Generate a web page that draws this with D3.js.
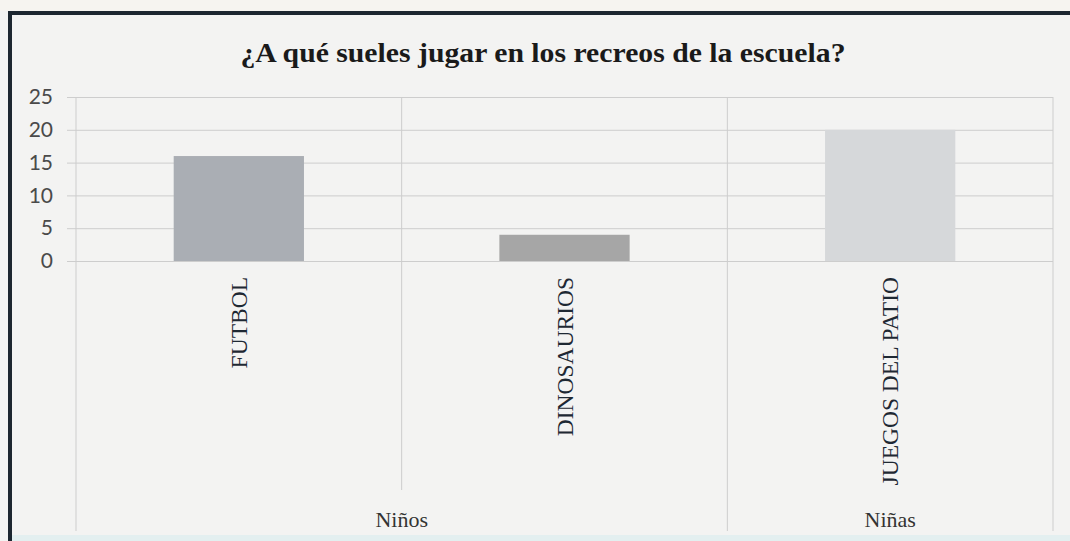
<!DOCTYPE html>
<html>
<head>
<meta charset="utf-8">
<script src="https://cdn.jsdelivr.net/npm/d3@7/dist/d3.min.js"></script>
<style>
  html, body { margin: 0; padding: 0; background: #f3f3f2; }
  svg { display: block; }
</style>
</head>
<body>
<svg id="chart" width="1070" height="541"></svg>
<script>
const title = "¿A qué sueles jugar en los recreos de la escuela?";
const categories = ["FUTBOL", "DINOSAURIOS", "JUEGOS DEL PATIO"];
const values = [16, 4, 20];
const groups = ["Niños", "Niños", "Niñas"];
const groupNames = ["Niños", "Niñas"];
const barColors = ["#aaaeb4", "#a6a6a6", "#d6d8da"];
const yTicks = [0, 5, 10, 15, 20, 25];

const svg = d3.select("#chart");
const W = 1070, H = 541;
const plot = { left: 76, right: 1053, top: 97, bottom: 261 };

// page background
svg.append("rect").attr("x", 0).attr("y", 0).attr("width", W).attr("height", H).attr("fill", "#f3f3f2");
// pale band at bottom
svg.append("rect").attr("x", 12).attr("y", 535).attr("width", W).attr("height", 6).attr("fill", "#e3eff0");
// frame (thick dark border)
svg.append("rect").attr("x", 0).attr("y", 0).attr("width", W).attr("height", 11).attr("fill", "#f6f4f0");
svg.append("rect").attr("x", 8).attr("y", 11).attr("width", W - 8).attr("height", 4).attr("fill", "#1c2630");
svg.append("rect").attr("x", 8).attr("y", 11).attr("width", 4).attr("height", H - 11).attr("fill", "#1c2630");

const x = d3.scaleBand().domain(categories).range([plot.left, plot.right]).paddingInner(0).paddingOuter(0);
const y = d3.scaleLinear().domain([0, 25]).range([plot.bottom, plot.top]);

// horizontal gridlines + tick labels via axis
const yAxis = d3.axisLeft(y).tickValues(yTicks).tickSize(-(plot.right - 67)).tickPadding(14);
const gy = svg.append("g").attr("transform", `translate(67,0)`).call(yAxis);
gy.select(".domain").remove();
gy.selectAll(".tick line").attr("stroke", "#cdcdcd").attr("stroke-width", 1);
gy.selectAll(".tick text")
  .attr("font-family", "Lato, 'Open Sans', sans-serif")
  .attr("font-size", 21)
  .attr("fill", "#4a4a4a");

// vertical separators
const edges = [plot.left].concat(categories.map(c => x(c) + x.bandwidth()));
edges.forEach((ex, i) => {
  const isGroupBoundary = (i === 0 || i === edges.length - 1 || groups[i - 1] !== groups[i]);
  svg.append("line")
    .attr("x1", ex).attr("x2", ex)
    .attr("y1", plot.top).attr("y2", isGroupBoundary ? 531 : 490)
    .attr("stroke", "#cdcdcd").attr("stroke-width", 1);
});

// bars
const barW = x.bandwidth() * 0.4;
svg.append("g").selectAll("rect").data(categories).join("rect")
  .attr("x", (d) => x(d) + x.bandwidth() / 2 - barW / 2)
  .attr("y", (d, i) => y(values[i]))
  .attr("width", barW)
  .attr("height", (d, i) => y(0) - y(values[i]))
  .attr("fill", (d, i) => barColors[i]);

// category labels (rotated)
svg.append("g").selectAll("text").data(categories).join("text")
  .attr("transform", d => `translate(${x(d) + x.bandwidth() / 2},277) rotate(-90)`)
  .attr("text-anchor", "end")
  .attr("dominant-baseline", "central")
  .attr("font-family", "'Liberation Serif', 'Times New Roman', serif")
  .attr("font-size", 23.5)
  .attr("fill", "#1e2833")
  .text(d => d);

// group labels
groupNames.forEach(g => {
  const cats = categories.filter((c, i) => groups[i] === g);
  const x0 = x(cats[0]);
  const x1 = x(cats[cats.length - 1]) + x.bandwidth();
  svg.append("text")
    .attr("x", (x0 + x1) / 2)
    .attr("y", 527)
    .attr("text-anchor", "middle")
    .attr("font-family", "'Liberation Serif', 'Times New Roman', serif")
    .attr("font-size", 22)
    .attr("fill", "#333")
    .text(g);
});

// title
svg.append("text")
  .attr("x", 543)
  .attr("y", 62)
  .attr("text-anchor", "middle")
  .attr("font-family", "'Liberation Serif', 'Times New Roman', serif")
  .attr("font-weight", "bold")
  .attr("font-size", 27)
  .attr("textLength", 605)
  .attr("lengthAdjust", "spacingAndGlyphs")
  .attr("fill", "#1a1a1a")
  .text(title);
</script>
</body>
</html>
